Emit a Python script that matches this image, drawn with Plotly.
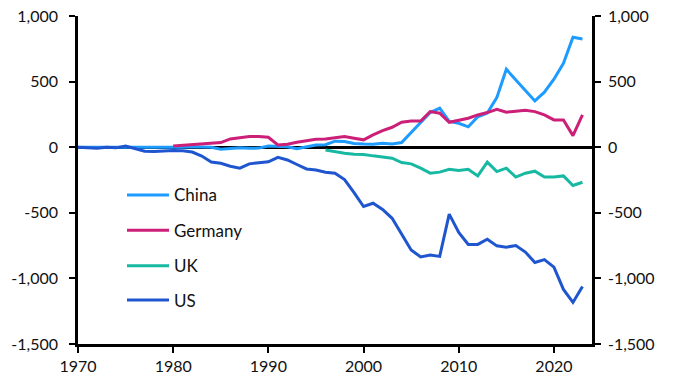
import plotly.graph_objects as go

years = list(range(1970, 2024))

china = [0, 0, 0, -5, -5, 0, 0, 0, -2, -2,
         -2, 0, 3, 1, -1, -15, -12, -4, -8, -7,
         9, 8, 4, -12, 5, 17, 19, 46, 43, 29,
         24, 23, 30, 25, 35, 110, 190, 264, 298, 196,
         182, 155, 232, 260, 378, 594, 513, 431, 353, 419,
         518, 640, 838, 825]

germany_years = list(range(1980, 2024))
germany = [10, 15, 20, 25, 25, 35, 63, 73, 81, 81,
           76, 17, 23, 38, 48, 61, 63, 73, 81, 68,
           56, 94, 127, 152, 190, 200, 200, 271, 259, 190,
           208, 221, 246, 264, 289, 267, 274, 282, 271, 246,
           208, 208, 88, 246]

uk_years = list(range(1996, 2024))
uk = [-21, -36, -46, -53, -55, -66, -74, -84, -117, -127,
      -160, -198, -190, -168, -178, -168, -219, -114, -186, -160,
      -228, -198, -183, -228, -228, -219, -292, -267]

us = [0, -5, -8, 0, -5, 9, -10, -30, -33, -28,
      -26, -28, -37, -67, -113, -122, -145, -160, -127, -118,
      -111, -77, -97, -132, -166, -174, -191, -198, -247, -346,
      -452, -427, -475, -542, -665, -783, -837, -821, -832, -510,
      -649, -741, -741, -702, -752, -762, -750, -799, -879, -857,
      -914, -1084, -1183, -1062]

names = ["China", "Germany", "UK", "US"]
colors = ["#1E9BFF", "#CC1F78", "#18B9A2", "#1F56CF"]
series_x = [years, germany_years, uk_years, years]
series_y = [china, germany, uk, us]

ytick_vals = [1000, 500, 0, -500, -1000, -1500]
ytick_text = ["1,000", "500", "0", "-500", "-1,000", "-1,500"]
xtick_vals = [1970, 1980, 1990, 2000, 2010, 2020]

FONT = "Lato"
W, H = 674, 392
ML, MR, MT, MB = 78, 82, 16, 48
PW, PH = W - ML - MR, H - MT - MB


def px_x(px):
    return (px - ML) / PW


def px_y(py):
    return (H - MB - py) / PH


fig = go.Figure()
for i, (n, c, xs, ys) in enumerate(zip(names, colors, series_x, series_y)):
    fig.add_trace(go.Scatter(x=xs, y=ys, name=n, mode="lines",
                             line=dict(color=c, width=3),
                             yaxis="y2" if n == "US" else "y",
                             showlegend=False))

# custom legend (longer line keys than plotly's built-in legend)
leg_rows = [195, 230.3, 265.7, 300]
for n, c, ry in zip(names, colors, leg_rows):
    fig.add_shape(type="line", xref="paper", yref="paper",
                  x0=px_x(127), x1=px_x(169), y0=px_y(ry), y1=px_y(ry),
                  line=dict(color=c, width=3))
    fig.add_annotation(text=n, xref="paper", yref="paper",
                       x=px_x(172), y=px_y(ry), xanchor="left", yanchor="middle",
                       showarrow=False, font=dict(family=FONT, size=17, color="#111"))

axis_common = dict(range=[-1500, 1000], tickvals=ytick_vals, ticktext=ytick_text,
                   showgrid=False, showline=True, linecolor="black", linewidth=2.5,
                   ticks="outside", ticklen=6, tickwidth=2, tickcolor="black",
                   tickfont=dict(family=FONT, size=16, color="#111"))

fig.update_layout(
    width=W, height=H,
    margin=dict(l=ML, r=MR, t=MT, b=MB, autoexpand=False),
    paper_bgcolor="white", plot_bgcolor="white",
    font=dict(family=FONT, size=16, color="#111"),
    xaxis=dict(range=[1970, 2024], tickvals=xtick_vals, showgrid=False,
               showline=True, linecolor="black", linewidth=2.5,
               ticks="outside", ticklen=6, tickwidth=2, tickcolor="black",
               zeroline=False, tickfont=dict(family=FONT, size=16, color="#111")),
    yaxis=dict(**axis_common, zeroline=True, zerolinecolor="black", zerolinewidth=2.5,
               ticklabelstandoff=8),
    yaxis2=dict(**axis_common, overlaying="y", side="right", zeroline=False,
                ticklabelstandoff=4),
    showlegend=False,
)

fig.write_html("out.html", config={"displayModeBar": False},
               post_script="document.body.style.margin='0';")
